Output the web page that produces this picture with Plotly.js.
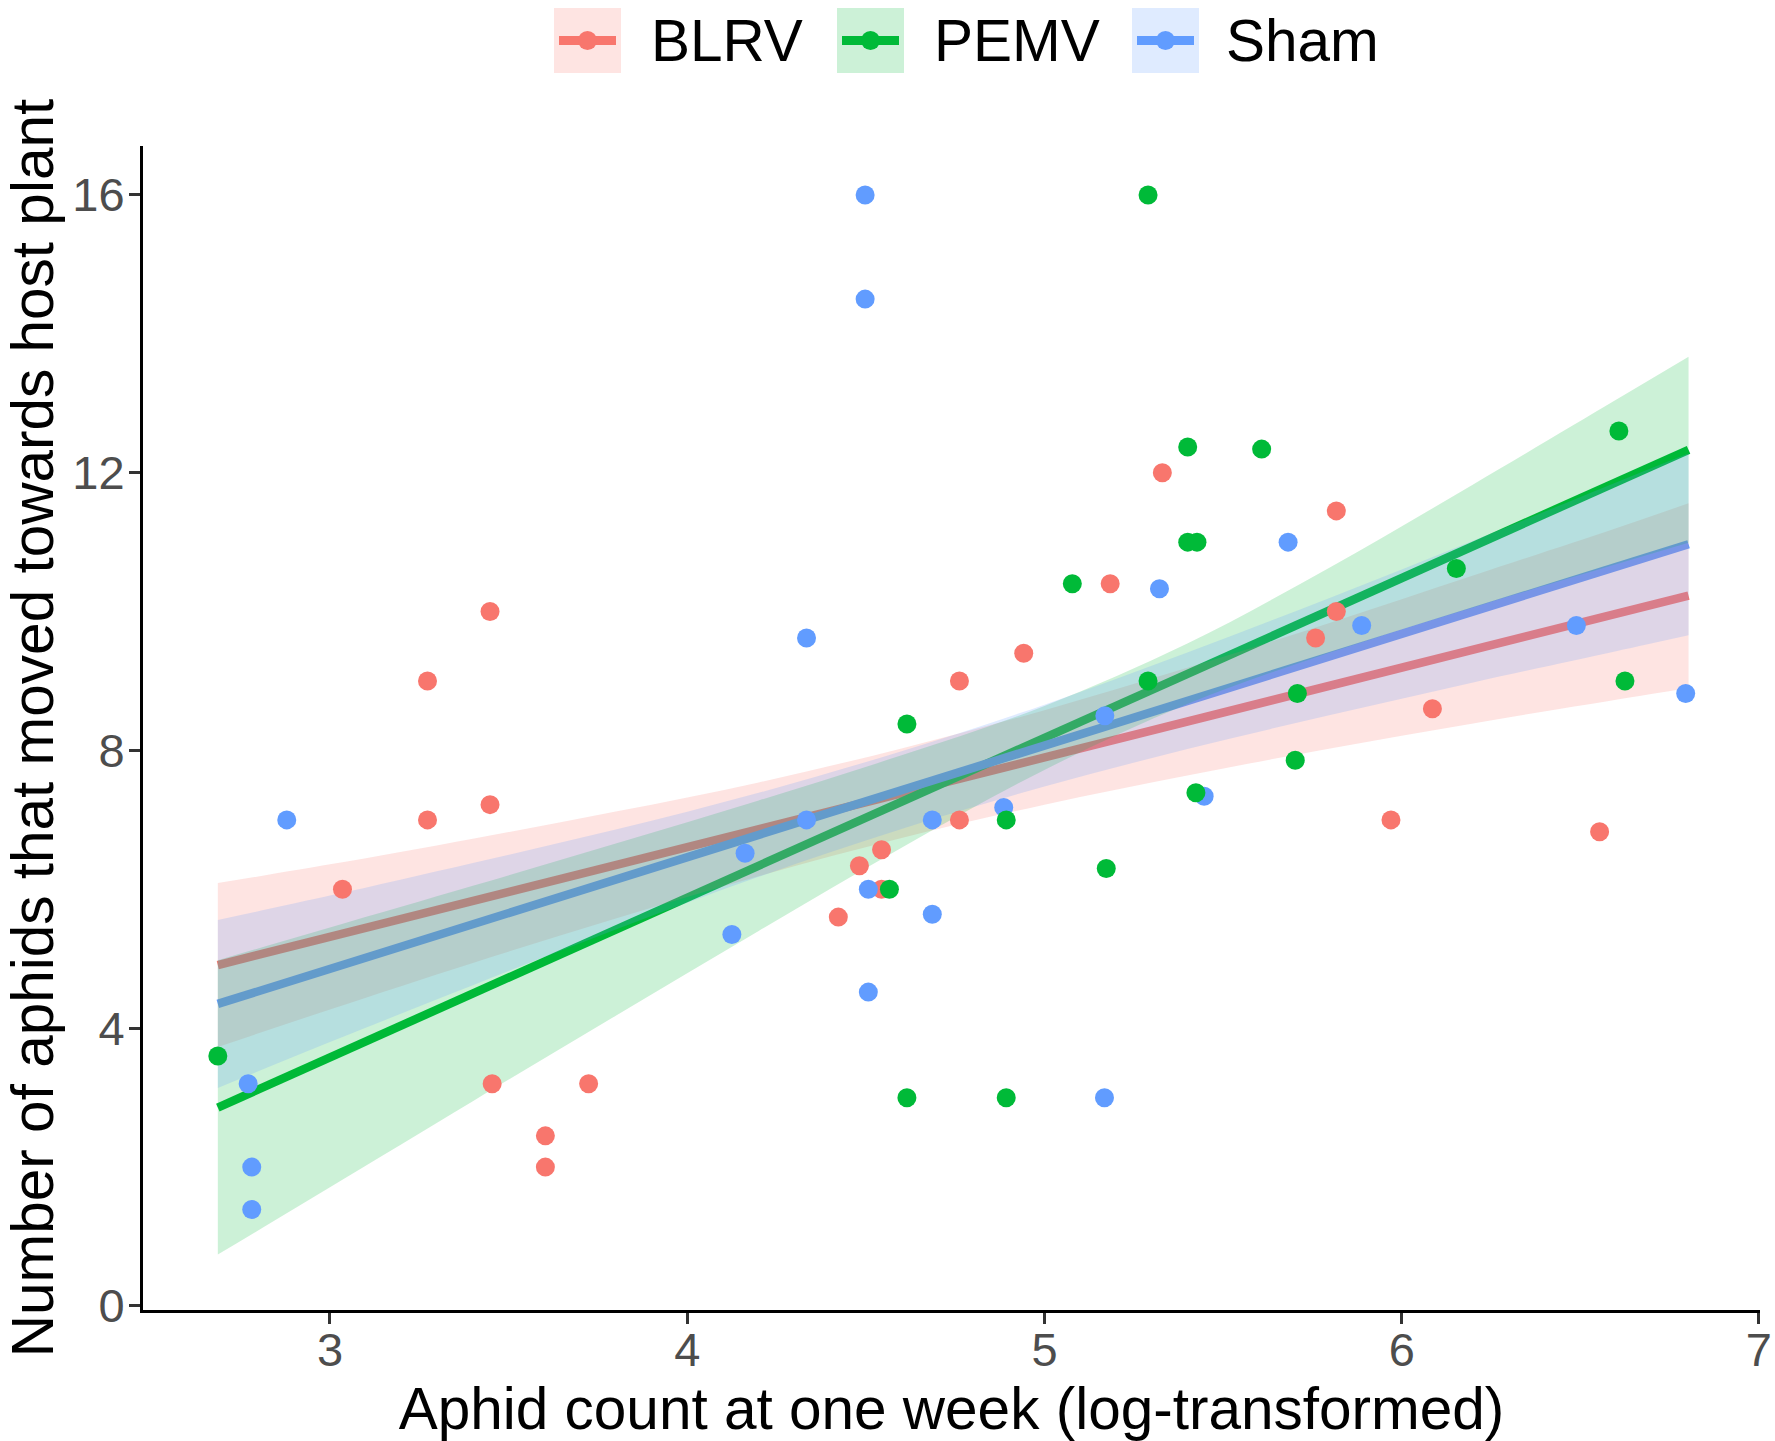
<!DOCTYPE html>
<html>
<head>
<meta charset="utf-8">
<script src="https://cdn.plot.ly/plotly-3.0.1.min.js"></script>
<style>
  html, body { margin: 0; padding: 0; background: #fff; }
  #chart { width: 1775px; height: 1441px; }
</style>
</head>
<body>
<div id="chart"></div>
<script>
// groups and colours (ggplot default hue palette)
const groups = ['BLRV', 'PEMV', 'Sham'];
const colors = ['#F8766D', '#00BA38', '#619CFF'];
const fills = ['rgba(248,118,109,0.2)', 'rgba(0,186,56,0.2)', 'rgba(97,156,255,0.2)'];

// raw points
const blrvX = [3.035, 3.273, 3.273, 3.448, 3.448, 3.454, 3.603, 3.603, 3.724, 4.423, 4.482, 4.544,
               4.544, 4.762, 4.762, 4.942, 5.184, 5.330, 5.759, 5.817, 5.817, 5.970, 6.086, 6.554];
const blrvY = [6.0, 9.0, 7.0, 10.0, 7.22, 3.2, 2.45, 2.0, 3.2, 5.6, 6.34, 6.57,
               6.0, 9.0, 7.0, 9.4, 10.4, 12.0, 9.62, 10.0, 11.45, 7.0, 8.6, 6.83];

const pemvX = [2.686, 4.566, 4.615, 4.615, 4.893, 4.893, 5.078, 5.173, 5.290, 5.290,
               5.401, 5.401, 5.427, 5.424, 5.608, 5.702, 5.708, 6.153, 6.608, 6.625];
const pemvY = [3.6, 6.0, 8.38, 3.0, 7.0, 3.0, 10.4, 6.3, 16.0, 9.0,
               12.37, 11.0, 11.0, 7.39, 12.34, 7.86, 8.82, 10.62, 12.6, 9.0];

const shamX = [2.771, 2.781, 2.781, 2.879, 4.125, 4.162, 4.334, 4.334, 4.498, 4.498, 4.507, 4.507,
               4.686, 4.686, 4.886, 5.169, 5.168, 5.322, 5.447, 5.682, 5.888, 6.489, 6.795];
const shamY = [3.2, 2.0, 1.39, 7.0, 5.35, 6.52, 9.62, 7.0, 16.0, 14.5, 6.0, 4.52,
               7.0, 5.64, 7.18, 8.5, 3.0, 10.33, 7.34, 11.0, 9.8, 9.8, 8.82];

// fitted lines (lm) and 95% bands
const fitX = [2.686, 6.803];
const blrvFit = [4.91, 10.23];
const pemvFit = [2.857, 12.33];
const shamFit = [4.35, 10.97];

const bandX = [2.686, 3.0, 3.4, 3.8, 4.2, 4.6, 5.0, 5.4, 5.8, 6.2, 6.6, 6.803];
const blrvLo = [3.73, 4.27, 4.94, 5.58, 6.19, 6.74, 7.22, 7.64, 8.03, 8.39, 8.73, 8.90];
const blrvHi = [6.09, 6.36, 6.73, 7.12, 7.54, 8.03, 8.58, 9.19, 9.84, 10.52, 11.20, 11.56];
const pemvLo = [0.74, 1.71, 2.95, 4.18, 5.40, 6.60, 7.72, 8.67, 9.41, 10.06, 10.68, 10.99];
const pemvHi = [4.98, 5.45, 6.05, 6.66, 7.28, 7.93, 8.64, 9.54, 10.64, 11.83, 13.05, 13.67];
const shamLo = [3.14, 3.80, 4.62, 5.42, 6.18, 6.87, 7.48, 8.02, 8.51, 8.98, 9.43, 9.66];
const shamHi = [5.56, 5.91, 6.38, 6.86, 7.39, 7.99, 8.66, 9.41, 10.20, 11.02, 11.86, 12.28];

const xTicks = [3, 4, 5, 6, 7];
const yTicks = [0, 4, 8, 12, 16];

const W = 1775, H = 1441;
const M = { l: 143, r: 15, t: 146, b: 131 };
const FONT = 'Liberation Sans, Arial, Helvetica, sans-serif';
const LW = 8.5;

const fits = [blrvFit, pemvFit, shamFit];
const los = [blrvLo, pemvLo, shamLo];
const his = [blrvHi, pemvHi, shamHi];

var data = [];

// lines first, the bands are laid over them
groups.forEach(function (g, i) {
  data.push({
    x: fitX, y: fits[i], type: 'scatter', mode: 'lines',
    line: { color: colors[i], width: LW },
    hoverinfo: 'skip', showlegend: false
  });
});

// each band: lower edge, then upper edge filled down to it
groups.forEach(function (g, i) {
  data.push({
    x: bandX, y: los[i], type: 'scatter', mode: 'lines',
    line: { width: 0, shape: 'spline', color: fills[i] },
    hoverinfo: 'skip', showlegend: false
  });
  data.push({
    x: bandX, y: his[i], type: 'scatter', mode: 'lines', fill: 'tonexty',
    fillcolor: fills[i], line: { width: 0, shape: 'spline', color: fills[i] },
    hoverinfo: 'skip', showlegend: false
  });
});

// points on top
var pts = [[blrvX, blrvY, 0], [shamX, shamY, 2], [pemvX, pemvY, 1]];
pts.forEach(function (p) {
  data.push({
    x: p[0], y: p[1], type: 'scatter', mode: 'markers', name: groups[p[2]],
    marker: { color: colors[p[2]], size: 19 },
    showlegend: false
  });
});

// legend drawn by hand above the panel (pixel positions turned into paper units)
const plotW = W - M.l - M.r, plotH = H - M.t - M.b;
const px = v => (v - M.l) / plotW;
const py = v => (H - M.b - v) / plotH;

const keyLeft = [554, 837, 1132];
const textLeft = [649, 932, 1224];
const keyW = 67, keyTop = 8, keyBot = 73, keyMid = 40.5;

var shapes = [], annotations = [];
groups.forEach(function (g, i) {
  var k = keyLeft[i];
  shapes.push({ type: 'rect', xref: 'paper', yref: 'paper',
    x0: px(k), x1: px(k + keyW), y0: py(keyBot), y1: py(keyTop),
    fillcolor: fills[i], line: { width: 0 } });
  shapes.push({ type: 'line', xref: 'paper', yref: 'paper',
    x0: px(k + 5), x1: px(k + keyW - 5), y0: py(keyMid), y1: py(keyMid),
    line: { color: colors[i], width: 9 } });
  shapes.push({ type: 'circle', xref: 'paper', yref: 'paper',
    x0: px(k + keyW / 2 - 9.5), x1: px(k + keyW / 2 + 9.5),
    y0: py(keyMid + 9.5), y1: py(keyMid - 9.5),
    fillcolor: colors[i], line: { width: 0 } });
  annotations.push({ xref: 'paper', yref: 'paper', x: px(textLeft[i]), y: py(keyMid),
    xanchor: 'left', yanchor: 'middle', showarrow: false, text: g,
    font: { family: FONT, size: 58.5, color: '#000000' } });
});

var axisCommon = {
  showgrid: false, zeroline: false,
  showline: true, linecolor: '#000000', linewidth: 3,
  ticks: 'outside', ticklen: 11, tickwidth: 3, tickcolor: '#333333',
  tickfont: { family: FONT, size: 47, color: '#4D4D4D' }
};

var layout = {
  width: W, height: H,
  margin: M,
  paper_bgcolor: '#ffffff', plot_bgcolor: '#ffffff',
  showlegend: false,
  xaxis: Object.assign({}, axisCommon, {
    range: [2.4766, 7.003], tickvals: xTicks, ticklabelstandoff: -14,
    title: { text: 'Aphid count at one week (log-transformed)', standoff: 20,
             font: { family: FONT, size: 58.5, color: '#000000' } }
  }),
  yaxis: Object.assign({}, axisCommon, {
    range: [-0.058, 16.705], tickvals: yTicks, ticklabelstandoff: -5,
    title: { text: 'Number of aphids that moved towards host plant', standoff: 16,
             font: { family: FONT, size: 58.5, color: '#000000' } }
  }),
  shapes: shapes,
  annotations: annotations
};

Plotly.newPlot('chart', data, layout, { displayModeBar: false, staticPlot: true });
</script>
</body>
</html>
